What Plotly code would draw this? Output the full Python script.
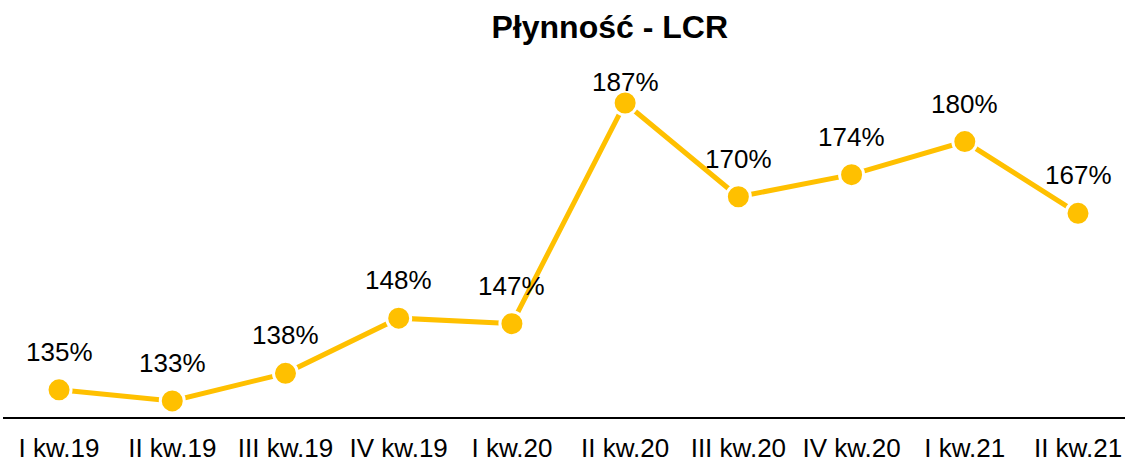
import plotly.graph_objects as go

categories = ["I kw.19", "II kw.19", "III kw.19", "IV kw.19", "I kw.20",
              "II kw.20", "III kw.20", "IV kw.20", "I kw.21", "II kw.21"]
lcr_values = [135, 133, 138, 148, 147, 187, 170, 174, 180, 167]
label_texts = [f"{v}%" for v in lcr_values]

color = "#FFC000"
font_family = "Liberation Sans, Arial, sans-serif"

x_idx = list(range(len(categories)))

fig = go.Figure()
fig.add_trace(go.Scatter(
    x=x_idx, y=lcr_values, mode="lines+markers",
    line=dict(color=color, width=5),
    marker=dict(size=24, color=color, line=dict(color="white", width=3)),
    hoverinfo="skip", showlegend=False,
))

for i, (v, t) in enumerate(zip(lcr_values, label_texts)):
    shift = 21 if v == max(lcr_values) else 38
    fig.add_annotation(x=i, y=v, text=t, showarrow=False, yshift=shift,
                       yanchor="middle", xanchor="center",
                       font=dict(size=26, color="#000000", family=font_family))

fig.update_layout(
    width=1125, height=462,
    margin=dict(l=3, r=0, t=50, b=44),
    paper_bgcolor="white", plot_bgcolor="white",
    title=dict(text="<b>Płynność - LCR</b>", x=0.542, xanchor="center",
               y=1 - 27 / 462, yanchor="middle", yref="container",
               font=dict(size=32, color="#000000", family=font_family)),
    xaxis=dict(range=[-0.495, 9.415], tickmode="array", tickvals=x_idx,
               ticktext=categories, showgrid=False, zeroline=False,
               showline=False, ticks="", ticklabelstandoff=12,
               automargin=False,
               tickfont=dict(size=26, color="#000000", family=font_family)),
    yaxis=dict(range=[129.9, 196.6], visible=False, showgrid=False),
    shapes=[dict(type="line", xref="paper", yref="paper", x0=0, x1=1, y0=0, y1=0,
                 line=dict(color="#000000", width=2))],
)

fig.write_html(
    "out.html",
    config={"displayModeBar": False},
    post_script="document.body.style.margin='0';document.body.style.overflow='hidden';",
)
